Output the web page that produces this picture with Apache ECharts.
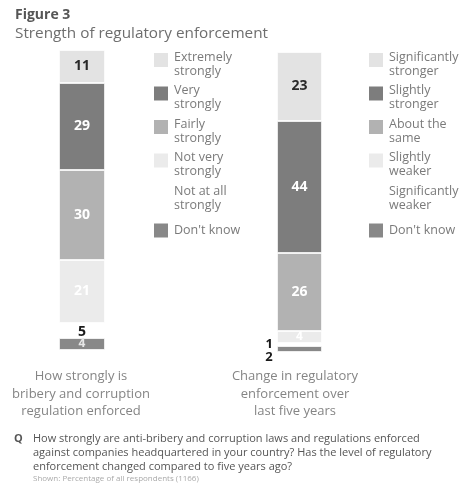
<!DOCTYPE html>
<html>
<head>
<meta charset="utf-8">
<script src="https://cdn.jsdelivr.net/npm/echarts@6/dist/echarts.min.js"></script>
<style>
  html, body { margin: 0; padding: 0; background: #fff; }
  #chart { width: 465px; height: 488px; }
</style>
</head>
<body>
<div id="chart"></div>
<script>
// Answer categories, top segment first
const strengthCategories = ['Extremely strongly', 'Very strongly', 'Fairly strongly', 'Not very strongly', 'Not at all strongly', "Don't know"];
const strengthValues = [11, 29, 30, 21, 5, 4];

const changeCategories = ['Significantly stronger', 'Slightly stronger', 'About the same', 'Slightly weaker', 'Significantly weaker', "Don't know"];
const changeValues = [23, 44, 26, 4, 1, 2];

// Fill shade per category position
const shades = ['#e3e3e3', '#7d7d7d', '#b2b2b2', '#ebebeb', '#ffffff', '#888888'];
// Value label colour per category position
const labelColors = ['#2a2a2a', '#ffffff', '#ffffff', '#ffffff', '#1a1a1a', '#e6e6e6'];

const FONT = '"Open Sans", "DejaVu Sans", sans-serif';

// Swatch sits level with the first line of a two-line legend entry
const ICON_TOP = 'path://M0,0H16V16H0Z M0,24';
const ICON_MID = 'path://M0,4H16V20H0Z M0,0 M0,24';

function legendText(name) {
  if (name === "Don't know") return name;
  const i = name.lastIndexOf(' ');
  return name.slice(0, i) + '\n' + name.slice(i + 1);
}

function legendData(categories) {
  return categories.map(function (n) {
    return { name: n, icon: n === "Don't know" ? ICON_MID : ICON_TOP };
  });
}

function buildSeries(categories, values, gridIdx, labelOverrides) {
  const out = [];
  // stack from the bottom category upwards
  for (let k = categories.length - 1; k >= 0; k--) {
    const lbl = Object.assign({
      show: true,
      position: 'inside',
      color: labelColors[k],
      fontFamily: FONT,
      fontSize: 14,
      fontWeight: 'bold'
    }, labelOverrides[k] || {});
    out.push({
      type: 'bar',
      name: categories[k],
      stack: 'total' + gridIdx,
      xAxisIndex: gridIdx,
      yAxisIndex: gridIdx,
      barWidth: '100%',
      data: [values[k]],
      itemStyle: { color: shades[k], borderColor: '#ffffff', borderWidth: 0.8 },
      label: lbl,
      emphasis: { disabled: true },
      animation: false
    });
  }
  return out;
}

const leftSeries = buildSeries(strengthCategories, strengthValues, 0, {
  4: { offset: [0, 2] },
  5: { fontSize: 12 }
});
const rightSeries = buildSeries(changeCategories, changeValues, 1, {
  3: { fontSize: 12 },
  4: { position: 'left', distance: 4, color: '#1a1a1a', fontSize: 13 },
  5: { position: [-8, 11], align: 'center', verticalAlign: 'middle', color: '#1a1a1a', fontSize: 13 }
});

const legendCommon = {
  orient: 'vertical',
  padding: 0,
  itemWidth: 16,
  itemHeight: 24,
  itemGap: 5.5,
  selectedMode: false,
  formatter: legendText,
  textStyle: { fontFamily: FONT, fontSize: 12.5, lineHeight: 14, color: '#7a7a7a' }
};

function caption(text, x, y, size, extra) {
  return Object.assign({
    text: text, left: x, top: y, padding: 0,
    textStyle: Object.assign({ fontFamily: FONT, fontSize: size, fontWeight: 'normal', color: '#555555' }, extra || {})
  });
}

const chart = echarts.init(document.getElementById('chart'), null, { renderer: 'canvas' });
chart.setOption({
  backgroundColor: '#ffffff',
  animation: false,
  title: [
    caption('Figure 3', 15, 8, 14, { fontWeight: 'bold', color: '#555555' }),
    caption('Strength of regulatory enforcement', 15, 26, 15.3, { color: '#6e6e6e' }),
    Object.assign(caption('How strongly is\nbribery and corruption\nregulation enforced', 81, 368, 13,
      { lineHeight: 17.5, color: '#858585' }), { textAlign: 'center' }),
    Object.assign(caption('Change in regulatory\nenforcement over\nlast five years', 295, 368, 13,
      { lineHeight: 17.5, color: '#858585' }), { textAlign: 'center' }),
    caption('Q', 14, 432, 11, { fontWeight: 'bold', lineHeight: 14 }),
    caption('How strongly are anti-bribery and corruption laws and regulations enforced\nagainst companies headquartered in your country? Has the level of regulatory\nenforcement changed compared to five years ago?',
      33, 432, 11, { lineHeight: 14 }),
    caption('Shown: Percentage of all respondents (1166)', 33, 475, 8, { color: '#aaaaaa' })
  ],
  legend: [
    Object.assign({ left: 152, top: 50, data: legendData(strengthCategories) }, legendCommon),
    Object.assign({ left: 367, top: 50, data: legendData(changeCategories) }, legendCommon)
  ],
  grid: [
    { left: 59, top: 50, width: 46, height: 300 },
    { left: 277, top: 52, width: 45, height: 300 }
  ],
  xAxis: [
    { gridIndex: 0, type: 'category', data: ['strength'], show: false },
    { gridIndex: 1, type: 'category', data: ['change'], show: false }
  ],
  yAxis: [
    { gridIndex: 0, type: 'value', min: 0, max: 100, show: false },
    { gridIndex: 1, type: 'value', min: 0, max: 100, show: false }
  ],
  series: leftSeries.concat(rightSeries)
});
</script>
</body>
</html>
